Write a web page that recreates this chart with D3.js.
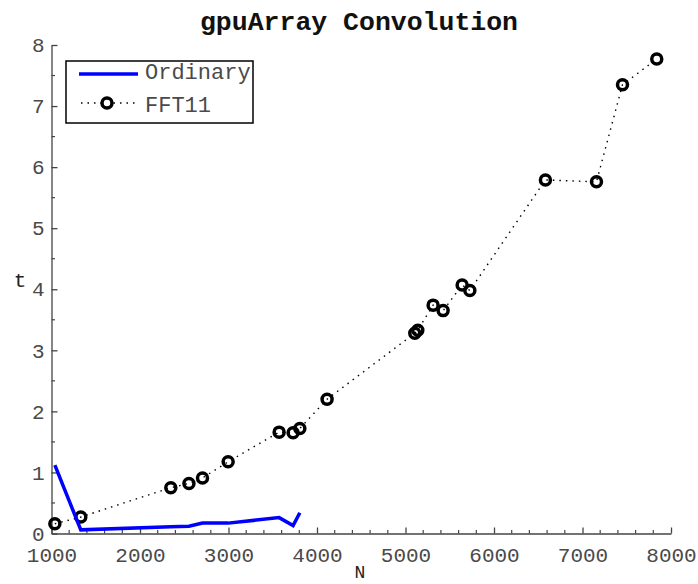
<!DOCTYPE html>
<html>
<head>
<meta charset="utf-8">
<script src="https://cdn.jsdelivr.net/npm/d3@7"></script>
<style>
  html, body { margin: 0; padding: 0; background: #fff; }
  svg { display: block; }
  text { font-family: "Liberation Mono", "Courier New", monospace; }
</style>
</head>
<body>
<script>
// Problem sizes and timings
const sizesN = [1038, 1331, 2348, 2553, 2706, 2996, 3572, 3730, 3806,
                4114, 5105, 5139, 5312, 5425, 5640, 5727, 6581, 7158, 7452, 7839];
const fftTimes = [0.16, 0.27, 0.75, 0.82, 0.91, 1.175, 1.66, 1.65, 1.72,
                  2.2, 3.28, 3.33, 3.74, 3.65, 4.07, 3.98, 5.79, 5.76, 7.35, 7.77];
const ordinaryN = [1038, 1331, 2348, 2553, 2706, 2996, 3572, 3730, 3806];
const ordinaryTimes = [1.12, 0.06, 0.11, 0.12, 0.17, 0.17, 0.26, 0.13, 0.34];
const xTicks = [1000, 2000, 3000, 4000, 5000, 6000, 7000, 8000];
const yTicks = [0, 1, 2, 3, 4, 5, 6, 7, 8];
const seriesNames = ["Ordinary", "FFT11"];
const chartTitle = "gpuArray Convolution";

const W = 698, H = 584;
const svg = d3.select("body").append("svg").attr("width", W).attr("height", H);

const x = d3.scaleLinear().domain([1000, 8000]).range([51.5, 671]);
const y = d3.scaleLinear().domain([0, 8]).range([533.5, 45]);

const axisColor = "#444";
const labelColor = "#4a4a4a";

// Minor ticks
const xMinor = d3.range(1000, 8001, 200).filter(v => v % 1000 !== 0);
const yMinor = d3.range(0.5, 8, 1);

// X axis (ticks pointing inward)
const gx = svg.append("g").attr("transform", `translate(0,${y(0)})`)
  .call(d3.axisBottom(x).tickValues(xTicks).tickSize(-6).tickSizeOuter(0).tickPadding(14).tickFormat(d3.format("d")));
gx.selectAll(".tick text").attr("font-size", 21).attr("fill", labelColor)
  .attr("font-family", "Liberation Mono, monospace");
gx.selectAll("line, path").attr("stroke", axisColor).attr("stroke-width", 1.3);
gx.append("g").selectAll("line").data(xMinor).join("line")
  .attr("x1", d => x(d)).attr("x2", d => x(d)).attr("y1", 0).attr("y2", -3.5)
  .attr("stroke", axisColor).attr("stroke-width", 1.2);

// Y axis
const gy = svg.append("g").attr("transform", `translate(${x(1000)},0)`)
  .call(d3.axisLeft(y).tickValues(yTicks).tickSize(-6).tickSizeOuter(0).tickPadding(7));
gy.selectAll(".tick text").attr("font-size", 21).attr("fill", labelColor)
  .attr("font-family", "Liberation Mono, monospace");
gy.selectAll("line, path").attr("stroke", axisColor).attr("stroke-width", 1.3);
gy.append("g").selectAll("line").data(yMinor).join("line")
  .attr("x1", 0).attr("x2", 3.5).attr("y1", d => y(d)).attr("y2", d => y(d))
  .attr("stroke", axisColor).attr("stroke-width", 1.2);

// Title and axis labels
svg.append("text").attr("x", 359).attr("y", 30).attr("text-anchor", "middle")
  .attr("font-size", 26.5).attr("font-weight", "bold").attr("fill", "#111").text(chartTitle);
svg.append("text").attr("x", 360).attr("y", 578).attr("text-anchor", "middle")
  .attr("font-family", "Liberation Serif, serif").attr("font-size", 18).attr("fill", "#222").text("N");
svg.append("text").attr("x", 20).attr("y", 287).attr("text-anchor", "middle")
  .attr("font-size", 21).attr("fill", "#222").text("t");

// FFT series: dotted line with ring markers
const fftData = sizesN.map((n, i) => [n, fftTimes[i]]);
svg.append("path").datum(fftData)
  .attr("d", d3.line().x(d => x(d[0])).y(d => y(d[1])))
  .attr("fill", "none").attr("stroke", "#000").attr("stroke-width", 1.4)
  .attr("stroke-dasharray", "1.5,5");
svg.append("g").selectAll("circle").data(fftData).join("circle")
  .attr("cx", d => x(d[0])).attr("cy", d => y(d[1])).attr("r", 5)
  .attr("fill", "none").attr("stroke", "#000").attr("stroke-width", 3.5);

// Ordinary series: solid blue line
const ordData = ordinaryN.map((n, i) => [n, ordinaryTimes[i]]);
svg.append("path").datum(ordData)
  .attr("d", d3.line().x(d => x(d[0])).y(d => y(d[1])))
  .attr("fill", "none").attr("stroke", "#0000ff").attr("stroke-width", 3.5)
  .attr("stroke-linejoin", "miter");

// Legend
const lg = svg.append("g");
lg.append("rect").attr("x", 66).attr("y", 61).attr("width", 187).attr("height", 62)
  .attr("fill", "#fff").attr("stroke", "#000").attr("stroke-width", 1.5);
lg.append("line").attr("x1", 79).attr("x2", 138).attr("y1", 74).attr("y2", 74)
  .attr("stroke", "#0000ff").attr("stroke-width", 3.5);
lg.append("line").attr("x1", 81).attr("x2", 138).attr("y1", 103).attr("y2", 103)
  .attr("stroke", "#000").attr("stroke-width", 1.4).attr("stroke-dasharray", "1.5,5");
lg.append("circle").attr("cx", 107).attr("cy", 103).attr("r", 5)
  .attr("fill", "#fff").attr("stroke", "#000").attr("stroke-width", 3.5);
lg.selectAll("text.leg").data(seriesNames).join("text").attr("class", "leg")
  .attr("x", 145).attr("y", (d, i) => 79 + i * 33)
  .attr("font-size", 22).attr("fill", labelColor).text(d => d);
</script>
</body>
</html>
